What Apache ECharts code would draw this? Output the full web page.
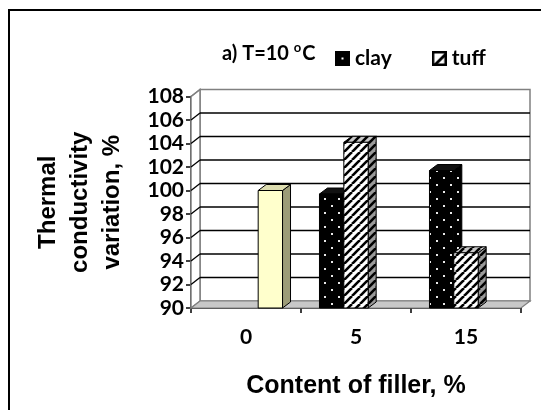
<!DOCTYPE html>
<html>
<head>
<meta charset="utf-8">
<script src="https://cdn.jsdelivr.net/npm/echarts@6/dist/echarts.min.js"></script>
<style>
html,body{margin:0;padding:0;background:#fff;}
#c{width:541px;height:410px;}
</style>
</head>
<body>
<div id="c"></div>
<script>
// ---- data ----
const categories = ['0', '5', '15'];
const clay = [null, 99.7, 101.7];
const tuff = [null, 104.1, 94.7];
const control = [100, null, null];
const yTicks = [90, 92, 94, 96, 98, 100, 102, 104, 106, 108];

// ---- patterns ----
function makeCanvas(w, h, draw) {
  const c = document.createElement('canvas');
  c.width = w; c.height = h;
  draw(c.getContext('2d'));
  return c;
}
const dotsTile = makeCanvas(14, 14, g => {
  g.fillStyle = '#000'; g.fillRect(0, 0, 14, 14);
  g.fillStyle = '#e8e8e8';
  g.fillRect(2, 2, 2, 2); g.fillRect(9, 9, 2, 2);
});
function stripeTile(bg) {
  return makeCanvas(8, 8, g => {
    g.fillStyle = bg; g.fillRect(0, 0, 8, 8);
    g.strokeStyle = '#000'; g.lineWidth = 2.6;
    for (let k = -8; k <= 16; k += 8) {
      g.beginPath(); g.moveTo(k, 8); g.lineTo(k + 8, 0); g.stroke();
    }
  });
}
const pat = c => ({ image: c, repeat: 'repeat' });
const clayFaces = { front: pat(dotsTile), side: pat(dotsTile), top: '#111' };
const tuffFaces = { front: pat(stripeTile('#fff')), side: pat(stripeTile('#9a9a9a')), top: pat(stripeTile('#c8c8c8')) };
const ctrlFaces = { front: '#FFFFCC', side: '#9C9C78', top: '#DDDDB0' };

const clayIcon = makeCanvas(15, 15, g => {
  g.fillStyle = '#000'; g.fillRect(0, 0, 15, 15);
  g.fillStyle = '#fff'; g.fillRect(6.5, 6.5, 2, 2);
}).toDataURL();
const tuffIcon = makeCanvas(15, 15, g => {
  g.fillStyle = '#fff'; g.fillRect(0, 0, 15, 15);
  g.fillStyle = '#000';
  g.beginPath(); g.moveTo(15, 0); g.lineTo(15, 4); g.lineTo(4, 15); g.lineTo(0, 15); g.closePath(); g.fill();
  g.strokeStyle = '#000'; g.lineWidth = 2.5; g.strokeRect(1.25, 1.25, 12.5, 12.5);
}).toDataURL();

// ---- 3D geometry ----
const DXW = 9, DYW = 7;   // wall depth
const DXB = 8, DYB = 6;   // bar depth
const CAT_GAP = 0.336;
const NSLOT = 3;

function barRenderer(slot, faces) {
  return function (params, api) {
    const v = api.value(1);
    if (v == null || isNaN(v)) return null;
    const ci = api.value(0);
    const base = api.coord([ci, 90]);
    const top = api.coord([ci, v]);
    const bandW = api.size([1, 0])[0];
    const bw = bandW * (1 - CAT_GAP) / NSLOT;
    const x0 = base[0] - NSLOT * bw / 2 + slot * bw;
    const x1 = x0 + bw;
    const y0 = base[1], y1 = top[1];
    const ls = { stroke: '#000', lineWidth: 1 };
    return {
      type: 'group', children: [
        { type: 'polygon', shape: { points: [[x1, y1], [x1 + DXB, y1 - DYB], [x1 + DXB, y0 - DYB], [x1, y0]] }, style: Object.assign({ fill: faces.side }, ls) },
        { type: 'polygon', shape: { points: [[x0, y1], [x0 + DXB, y1 - DYB], [x1 + DXB, y1 - DYB], [x1, y1]] }, style: Object.assign({ fill: faces.top }, ls) },
        { type: 'polygon', shape: { points: [[x0, y1], [x1, y1], [x1, y0], [x0, y0]] }, style: Object.assign({ fill: faces.front }, ls) }
      ]
    };
  };
}

function wallRenderer(params, api) {
  const cs = params.coordSys;
  const v = api.value(1);
  const y = api.coord([0, v])[1];
  const xl = cs.x, xr = cs.x + cs.width;
  const yTop = cs.y, yBot = cs.y + cs.height;
  const children = [];
  if (v === yTicks[0]) {
    children.push({ type: 'polygon', z2: 0, shape: { points: [[xl + DXW, yTop - DYW], [xr + DXW, yTop - DYW], [xr + DXW, yBot - DYW], [xl + DXW, yBot - DYW]] }, style: { fill: '#fff', stroke: '#808080', lineWidth: 1.5 } });
    children.push({ type: 'polygon', z2: 0, shape: { points: [[xl, yTop], [xl + DXW, yTop - DYW], [xl + DXW, yBot - DYW], [xl, yBot]] }, style: { fill: '#fff', stroke: '#808080', lineWidth: 1.5 } });
    children.push({ type: 'polygon', z2: 0, shape: { points: [[xl, yBot], [xr, yBot], [xr + DXW, yBot - DYW], [xl + DXW, yBot - DYW]] }, style: { fill: '#C8C8C8', stroke: '#808080', lineWidth: 1.2 } });
  } else {
    const isTop = v === yTicks[yTicks.length - 1];
    const col = isTop ? '#808080' : '#000';
    if (!isTop) children.push({ type: 'line', z2: 1, shape: { x1: xl + DXW, y1: y - DYW, x2: xr + DXW, y2: y - DYW }, style: { stroke: col, lineWidth: 1.5 } });
    children.push({ type: 'line', z2: 1, shape: { x1: xl, y1: y, x2: xl + DXW, y2: y - DYW }, style: { stroke: col, lineWidth: 1.3 } });
  }
  return { type: 'group', children };
}

const pairs = arr => arr.map((v, i) => [i, v]).filter(d => d[1] != null);

const chart = echarts.init(document.getElementById('c'), null, { renderer: 'canvas' });
chart.setOption({
  backgroundColor: '#fff',
  animation: false,
  graphic: [{
    type: 'rect', silent: true, z: 0,
    shape: { x: 9, y: 10, width: 700, height: 600 },
    style: { fill: 'none', stroke: '#000', lineWidth: 2 }
  }],
  title: {
    left: 222, top: 41, padding: 0,
    text: '{a|a) T=10 }{s|o}{a|C}',
    textStyle: {
      rich: {
        a: { fontFamily: 'Lato', fontWeight: 'bold', fontSize: 20, color: '#000' },
        s: { fontFamily: 'Lato', fontWeight: 'bold', fontSize: 13, color: '#000', padding: [0, 1, 12, 0] }
      }
    }
  },
  legend: {
    left: 335, top: 48, padding: 0,
    itemWidth: 15, itemHeight: 15, itemGap: 40,
    selectedMode: false,
    data: [
      { name: 'clay', icon: 'image://' + clayIcon },
      { name: 'tuff', icon: 'image://' + tuffIcon }
    ],
    textStyle: { fontFamily: 'Lato', fontWeight: 'bold', fontSize: 21, color: '#000' }
  },
  grid: { left: 191, top: 96.5, width: 330, height: 211.5 },
  xAxis: {
    type: 'category',
    data: categories,
    name: 'Content of filler, %',
    nameLocation: 'middle',
    nameGap: 66,
    nameTextStyle: { fontFamily: 'Liberation Sans', fontWeight: 'bold', fontSize: 25, color: '#000' },
    axisLine: { show: true, lineStyle: { color: '#000', width: 1.5 } },
    axisTick: { show: true, length: 5, alignWithLabel: false, lineStyle: { color: '#000', width: 1.5 } },
    axisLabel: { margin: 19, fontFamily: 'Lato', fontWeight: 'bold', fontSize: 21, color: '#000' },
    splitLine: { show: false }
  },
  yAxis: {
    type: 'value',
    min: 90, max: 108, interval: 2,
    name: 'Thermal\nconductivity\nvariation, %',
    nameLocation: 'middle',
    nameGap: 63,
    nameRotate: 90,
    nameTextStyle: { fontFamily: 'Liberation Sans', fontWeight: 'bold', fontSize: 24, lineHeight: 32, color: '#000', align: 'center' },
    axisLine: { show: true, lineStyle: { color: '#000', width: 1.5 } },
    axisTick: { show: true, length: 5, lineStyle: { color: '#000', width: 1.5 } },
    axisLabel: { margin: 7, fontFamily: 'Lato', fontWeight: 'bold', fontSize: 21, color: '#000' },
    splitLine: { show: false }
  },
  series: [
    { type: 'custom', name: 'walls', renderItem: wallRenderer, data: yTicks.map(v => [0, v]), encode: { x: 0, y: 1 }, z: 1, silent: true, clip: false },
    { type: 'custom', name: 'clay', renderItem: barRenderer(0, clayFaces), data: pairs(clay), encode: { x: 0, y: 1 }, z: 3, itemStyle: { color: '#000' } },
    { type: 'custom', name: 'tuff', renderItem: barRenderer(1, tuffFaces), data: pairs(tuff), encode: { x: 0, y: 1 }, z: 4, itemStyle: { color: '#fff' } },
    { type: 'custom', name: 'control', renderItem: barRenderer(2, ctrlFaces), data: pairs(control), encode: { x: 0, y: 1 }, z: 3, itemStyle: { color: '#FFFFCC' } }
  ]
});
</script>
</body>
</html>
